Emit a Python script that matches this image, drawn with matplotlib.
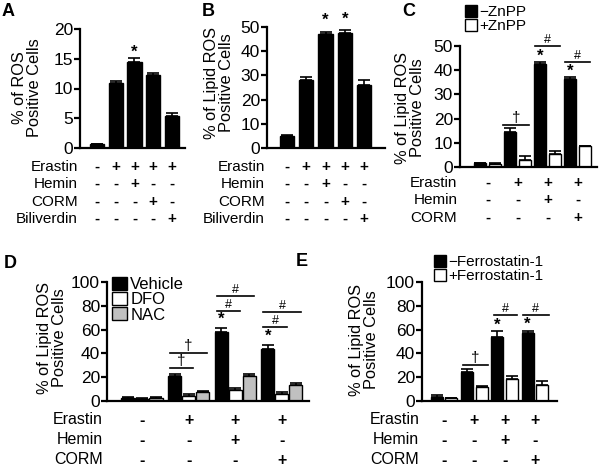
import matplotlib
matplotlib.use("Agg")
import matplotlib.pyplot as plt
import matplotlib.transforms as mtransforms
from matplotlib.patches import Patch
import numpy as np

plt.rcParams["font.family"] = ["Liberation Sans", "DejaVu Sans"]

W, H = 600, 466

# ---- data ----
A_vals = [0.6, 11.0, 14.4, 12.3, 5.4]
A_err = [0.1, 0.3, 0.7, 0.3, 0.4]
A_rows = {"Erastin": "-++++", "Hemin": "--+--", "CORM": "---+-", "Biliverdin": "----+"}

B_vals = [5.0, 28.0, 47.0, 47.5, 26.0]
B_err = [0.5, 1.5, 1.0, 1.2, 2.0]

C_minus = [1.5, 14.5, 42.5, 36.5]
C_minus_err = [0.3, 1.5, 0.7, 0.6]
C_plus = [1.2, 3.0, 5.5, 8.5]
C_plus_err = [0.3, 1.5, 1.2, 0.3]
rows3 = {"Erastin": "-+++", "Hemin": "--+-", "CORM": "---+"}

D_veh = [2.5, 21.0, 58.0, 44.0]
D_veh_err = [0.5, 2.0, 3.0, 3.0]
D_dfo = [2.0, 4.0, 9.0, 6.0]
D_dfo_err = [0.3, 1.5, 2.0, 1.5]
D_nac = [2.5, 7.5, 21.0, 13.5]
D_nac_err = [0.5, 1.0, 2.0, 1.5]

E_minus = [3.0, 24.0, 54.0, 57.0]
E_minus_err = [2.0, 3.0, 4.5, 2.0]
E_plus = [2.5, 12.0, 18.5, 13.5]
E_plus_err = [0.3, 0.8, 2.5, 3.5]

fig = plt.figure(figsize=(W / 100, H / 100), dpi=100)


def px_axes(left, right, top, bottom):
    return fig.add_axes([left / W, 1 - bottom / H, (right - left) / W, (bottom - top) / H])


def style(ax, ymax, step, xlim, fs=12.5):
    ax.set_ylim(0, ymax)
    ax.set_xlim(*xlim)
    ax.set_yticks(np.arange(0, ymax + 0.1, step))
    ax.set_xticks([])
    for s in ["top", "right"]:
        ax.spines[s].set_visible(False)
    for s in ["left", "bottom"]:
        ax.spines[s].set_linewidth(1.6)
    ax.tick_params(axis="y", direction="out", length=4, width=1.6, labelsize=fs, pad=1)


def bars(ax, x, vals, err, color, width):
    ax.bar(x, vals, width, color=color, edgecolor="black", linewidth=1.0, zorder=2)
    ax.errorbar(x, vals, yerr=[np.zeros(len(err)), err], fmt="none", ecolor="black",
                elinewidth=1.2, capsize=4, capthick=1.2, zorder=3)


def rows(ax, table, ys, xs, fs=11):
    tr = mtransforms.blended_transform_factory(ax.transData, fig.transFigure)
    trl = mtransforms.blended_transform_factory(ax.transAxes, fig.transFigure)
    for (name, signs), y in zip(table.items(), ys):
        ax.text(-0.02, 1 - y / H, name, transform=trl, ha="right", va="center", fontsize=fs, clip_on=False)
        for xi, s in zip(xs, signs):
            ax.text(xi, 1 - y / H, s, transform=tr, ha="center", va="center", fontsize=fs,
                    fontweight="bold", clip_on=False)


def ylab(text, x, y):
    fig.text(x / W, 1 - y / H, text, rotation=90, ha="center", va="center", fontsize=11.8, linespacing=0.95)


def sig(ax, x0, x1, y, mark, fs=9):
    ax.plot([x0, x1], [y, y], color="black", lw=1.2, clip_on=False)
    ax.text((x0 + x1) / 2, y, mark, ha="center", va="bottom", fontsize=fs, clip_on=False)


def star(ax, x, y):
    ax.text(x, y, "*", ha="center", va="bottom", fontsize=12, fontweight="bold", clip_on=False)


def panel(letter, x, y):
    fig.text(x / W, 1 - y / H, letter, fontsize=13, fontweight="bold", ha="left", va="center")


# ---- A ----
axA = px_axes(80, 185, 29, 148)
xA = np.arange(5)
style(axA, 20, 5, (-0.9, 4.69))
bars(axA, xA, A_vals, A_err, "black", 0.75)
star(axA, 2, A_vals[2] + A_err[2] - 0.3)
rows(axA, A_rows, [167, 184, 202, 219], xA)
ylab("% of ROS\nPositive Cells", 27, 88)
panel("A", 2, 11)

# ---- B ----
axB = px_axes(267, 385, 27, 148)
style(axB, 50, 10, (-1.04, 5.09))
bars(axB, xA, B_vals, B_err, "black", 0.75)
for i in (2, 3):
    star(axB, i, B_vals[i] + B_err[i] + 1.5)
rows(axB, A_rows, [167, 184, 202, 219], xA)
ylab("% of Lipid ROS\nPositive Cells", 219, 83)
panel("B", 202, 11)

# ---- C ----
axC = px_axes(460, 597, 46, 167)
xC = np.arange(4)
style(axC, 50, 10, (-0.92, 3.65))
bars(axC, xC - 0.25, C_minus, C_minus_err, "black", 0.4)
bars(axC, xC + 0.25, C_plus, C_plus_err, "white", 0.4)
for i in (2, 3):
    star(axC, i - 0.25, C_minus[i] + C_minus_err[i] - 0.5)
sig(axC, 0.52, 1.38, 17.4, "†", 11)
sig(axC, 1.58, 2.42, 50, "#")
sig(axC, 2.58, 3.42, 43.5, "#")
rows(axC, rows3, [183, 200, 218], xC)
ylab("% of Lipid ROS\nPositive Cells", 410, 108)
panel("C", 402, 11)
axC.legend(handles=[Patch(facecolor="black", edgecolor="black", label="\u2212ZnPP"),
                    Patch(facecolor="white", edgecolor="black", label="+ZnPP")],
           loc="upper left", bbox_to_anchor=(465 / W, 1 - 5 / H), bbox_transform=fig.transFigure,
           frameon=False, fontsize=11, handlelength=0.8, handleheight=0.8, handletextpad=0.1,
           labelspacing=0.0, borderpad=0, borderaxespad=0)

# ---- D ----
axD = px_axes(107, 309, 282, 401)
style(axD, 100, 20, (-0.75, 3.58))
bars(axD, xC - 0.3, D_veh, D_veh_err, "black", 0.28)
bars(axD, xC, D_dfo, D_dfo_err, "white", 0.28)
bars(axD, xC + 0.3, D_nac, D_nac_err, "#c0c0c0", 0.28)
for i in (2, 3):
    star(axD, i - 0.3, D_veh[i] + D_veh_err[i] + 1)
sig(axD, 0.6, 1.1, 27.7, "†", 11)
sig(axD, 0.6, 1.4, 40, "†", 11)
sig(axD, 1.6, 2.1, 75.6, "#")
sig(axD, 1.6, 2.4, 88, "#")
sig(axD, 2.6, 3.1, 62, "#")
sig(axD, 2.6, 3.4, 75, "#")
rows(axD, rows3, [420, 440, 460], xC, fs=11.5)
ylab("% of Lipid ROS\nPositive Cells", 52, 338)
panel("D", 4, 263)
axD.legend(handles=[Patch(facecolor="black", edgecolor="black", label="Vehicle"),
                    Patch(facecolor="white", edgecolor="black", label="DFO"),
                    Patch(facecolor="#c0c0c0", edgecolor="black", label="NAC")],
           loc="upper left", bbox_to_anchor=(112 / W, 1 - 277 / H), bbox_transform=fig.transFigure,
           frameon=False, fontsize=12, handlelength=0.9, handleheight=0.8, handletextpad=0.2,
           labelspacing=0.0, borderpad=0, borderaxespad=0)

# ---- E ----
axE = px_axes(422, 557, 282, 401)
style(axE, 100, 20, (-0.73, 3.73))
bars(axE, xC - 0.24, E_minus, E_minus_err, "black", 0.4)
bars(axE, xC + 0.24, E_plus, E_plus_err, "white", 0.4)
for i in (2, 3):
    star(axE, i - 0.24, E_minus[i] + E_minus_err[i] - 1)
sig(axE, 0.62, 1.45, 30, "†", 11)
sig(axE, 1.65, 2.4, 72, "#")
sig(axE, 2.6, 3.45, 72, "#")
rows(axE, rows3, [420, 440, 460], xC, fs=11.5)
ylab("% of Lipid ROS\nPositive Cells", 364, 340)
panel("E", 296, 262)
axE.legend(handles=[Patch(facecolor="black", edgecolor="black", label="\u2212Ferrostatin-1"),
                    Patch(facecolor="white", edgecolor="black", label="+Ferrostatin-1")],
           loc="upper left", bbox_to_anchor=(434 / W, 1 - 255 / H), bbox_transform=fig.transFigure,
           frameon=False, fontsize=11, handlelength=0.8, handleheight=0.8, handletextpad=0.1,
           labelspacing=0.0, borderpad=0, borderaxespad=0)

fig.savefig("out.png", dpi=100)
